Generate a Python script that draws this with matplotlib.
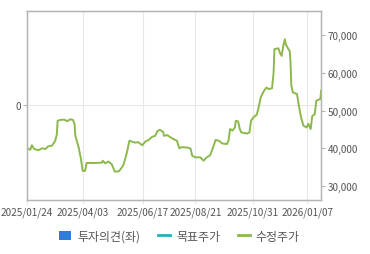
import matplotlib
matplotlib.use('Agg')
import matplotlib.pyplot as plt
from matplotlib.patches import Patch
from matplotlib.lines import Line2D
import pandas as pd

plt.rcParams['font.family'] = ['Noto Sans CJK KR', 'DejaVu Sans']

# adjusted price (수정주가)
dates = ['2025-01-24', '2025-01-28', '2025-01-30', '2025-02-02', '2025-02-07', '2025-02-12',
         '2025-02-16', '2025-02-19', '2025-02-24', '2025-02-28', '2025-03-02', '2025-03-03',
         '2025-03-06', '2025-03-11', '2025-03-15', '2025-03-19', '2025-03-22', '2025-03-24',
         '2025-03-25', '2025-03-29', '2025-04-01', '2025-04-03', '2025-04-06', '2025-04-08',
         '2025-04-19', '2025-04-27', '2025-04-28', '2025-05-01', '2025-05-05', '2025-05-09',
         '2025-05-13', '2025-05-18', '2025-05-22', '2025-05-24', '2025-05-28', '2025-05-31',
         '2025-06-04', '2025-06-07', '2025-06-11', '2025-06-16', '2025-06-20', '2025-06-24',
         '2025-06-28', '2025-07-02', '2025-07-05', '2025-07-08', '2025-07-12', '2025-07-13',
         '2025-07-17', '2025-07-21', '2025-07-25', '2025-07-29', '2025-08-01', '2025-08-04',
         '2025-08-11', '2025-08-15', '2025-08-17', '2025-08-21', '2025-08-27', '2025-08-31',
         '2025-09-04', '2025-09-08', '2025-09-11', '2025-09-15', '2025-09-19', '2025-09-23',
         '2025-09-29', '2025-10-01', '2025-10-03', '2025-10-06', '2025-10-09', '2025-10-10',
         '2025-10-13', '2025-10-15', '2025-10-17', '2025-10-24', '2025-10-27', '2025-10-29',
         '2025-11-01', '2025-11-05', '2025-11-07', '2025-11-10', '2025-11-14', '2025-11-17',
         '2025-11-20', '2025-11-24', '2025-11-26', '2025-11-27', '2025-12-02', '2025-12-04',
         '2025-12-06', '2025-12-08', '2025-12-10', '2025-12-11', '2025-12-14', '2025-12-16',
         '2025-12-17', '2025-12-18', '2025-12-20', '2025-12-25', '2025-12-27', '2025-12-30',
         '2026-01-02', '2026-01-06', '2026-01-08', '2026-01-11', '2026-01-13', '2026-01-16',
         '2026-01-18', '2026-01-21', '2026-01-23', '2026-01-24']
prices = [40000, 39600, 40800, 39800, 39500, 40000,
          39800, 40500, 40700, 42000, 43700, 47300,
          47500, 47600, 47200, 47700, 47500, 46400,
          43300, 40300, 37100, 34000, 34000, 36100,
          36100, 36200, 36700, 36000, 36500, 35800,
          33800, 33900, 35000, 35800, 38900, 42000,
          41700, 41500, 41600, 40800, 41800, 42200,
          43000, 43300, 44600, 44900, 44300, 43300,
          43500, 42900, 42400, 42000, 40000, 40300,
          40200, 39900, 38000, 37600, 37600, 36700,
          37600, 38100, 39700, 42200, 42000, 41300,
          41100, 42000, 45100, 44700, 45500, 47300,
          47100, 45100, 44200, 43900, 44200, 47300,
          48200, 48900, 50400, 53500, 55200, 56100,
          55700, 55900, 60100, 66300, 66500, 65200,
          64500, 67200, 68900, 67600, 66400, 65800,
          62700, 56600, 54800, 54400, 51700, 48200,
          46000, 45500, 46500, 45100, 48600, 49000,
          52600, 52900, 53000, 55300]

tick_dates = ['2025-01-24', '2025-04-03', '2025-06-17', '2025-08-21', '2025-10-31', '2026-01-07']
price_ticks = [30000, 40000, 50000, 60000, 70000]

x = pd.to_datetime(dates)
xt = pd.to_datetime(tick_dates)

GREEN = '#8cb84c'
GRID = '#e8e8e8'
SPINE = '#b4b4b4'
TXT = '#555555'

fig = plt.figure(figsize=(3.7, 2.55), dpi=100)
ax = fig.add_axes([0.073, 0.212, 0.795, 0.741])
ax2 = ax.twinx()

ax.set_ylim(-1, 1)
ax.set_yticks([0])
ax.set_yticklabels(['0'])
ax.set_xlim(x[0], x[-1])
ax.set_xticks(xt)
ax.set_xticklabels([d.strftime('%Y/%m/%d') for d in xt])
ax.grid(True, color=GRID, lw=0.8)
ax.set_axisbelow(True)

ax2.plot(x, prices, color=GREEN, lw=1.4)
ax2.set_ylim(26300, 76400)
ax2.set_yticks(price_ticks)
ax2.set_yticklabels([f'{v:,}' for v in price_ticks])

for a in (ax, ax2):
    for s in a.spines.values():
        s.set_color(SPINE)
        s.set_linewidth(0.9)
    a.tick_params(colors=SPINE, labelcolor=TXT, labelsize=7.2, length=3, width=0.8, pad=1.5)
ax.tick_params(axis='x', color=GRID)

handles = [Patch(facecolor='#2b7de0', edgecolor='none'),
           Line2D([], [], color='#22b0bf', lw=2),
           Line2D([], [], color=GREEN, lw=2)]
labels = ['투자의견(좌)', '목표주가', '수정주가']
fig.legend(handles, labels, loc='center', bbox_to_anchor=(0.485, 0.07), ncol=3,
           frameon=False, fontsize=8.6, handlelength=1.0, handleheight=0.8,
           handletextpad=0.5, columnspacing=1.5, labelcolor=TXT)

fig.savefig('out.png', dpi=100)
